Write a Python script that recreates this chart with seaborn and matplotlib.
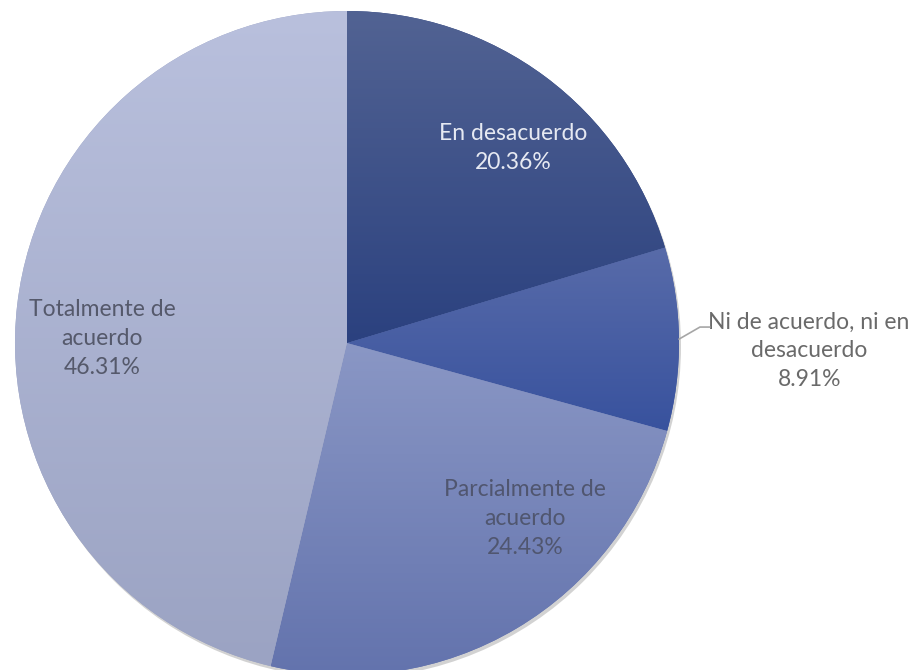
import numpy as np
import matplotlib
matplotlib.use('Agg')
import matplotlib.pyplot as plt
import seaborn as sns
from matplotlib.colors import LinearSegmentedColormap
from matplotlib.patches import Circle

# --- datos ---
categorias = ['En desacuerdo', 'Ni de acuerdo, ni en\ndesacuerdo',
              'Parcialmente de\nacuerdo', 'Totalmente de\nacuerdo']
porcentajes = [20.36, 8.91, 24.43, 46.31]
colores_arriba = ['#526393', '#586ba9', '#8a97c5', '#b9c0dd']
colores_abajo = ['#2b417f', '#38529e', '#6373ad', '#9ba3c3']

sns.set_theme(style='white')
plt.rcParams['font.family'] = ['Lato', 'DejaVu Sans']

fig = plt.figure(figsize=(9.13, 6.70), dpi=100)
ax = fig.add_axes([0, 0, 1, 1])
R = 332.0

# sombra suave
ax.add_patch(Circle((0.006, -0.01), 1.0, color='#808080', alpha=0.35, lw=0, zorder=0))

wedges, _ = ax.pie(porcentajes, startangle=90, counterclock=False, radius=1.0,
                   colors=colores_abajo, wedgeprops=dict(linewidth=0))

# degradado vertical por porción
for w, c1, c2 in zip(wedges, colores_arriba, colores_abajo):
    w.set_zorder(1)
    bb = w.get_path().get_extents(w.get_transform() - ax.transData)
    cmap = LinearSegmentedColormap.from_list('g', [c2, c1])
    grad = np.linspace(0, 1, 256).reshape(-1, 1)
    im = ax.imshow(grad, cmap=cmap, origin='lower', aspect='auto',
                   extent=[bb.x0, bb.x1, bb.y0, bb.y1], zorder=2)
    im.set_clip_path(w)

# etiquetas
txt = dict(ha='center', va='center', fontsize=16.5, linespacing=1.47, zorder=5)
etiq = [f'{c}\n{p:.2f}%' for c, p in zip(categorias, porcentajes)]
ax.text(0.50, 0.587, etiq[0], color='#e6e9f2', **txt)
ax.text(1.392, -0.024, etiq[1], color='#6a6a6a', **txt)
ax.text(0.536, -0.53, etiq[2], color='#50566f', **txt)
ax.text(-0.738, 0.015, etiq[3], color='#55596b', **txt)

# línea guía para la porción pequeña
ang = np.deg2rad(90 - (porcentajes[0] + porcentajes[1] / 2) * 3.6)
x0, y0 = np.cos(ang), np.sin(ang)
ax.plot([x0, 1.063, 1.093], [y0, 0.048, 0.048], color='#a6a6a6', lw=1.2, zorder=5)

ax.set_xlim(-347 / R, (913 - 347) / R)
ax.set_ylim((343 - 670) / R, 343 / R)
ax.set_aspect('equal')
ax.axis('off')

fig.savefig('out.png', dpi=100)
